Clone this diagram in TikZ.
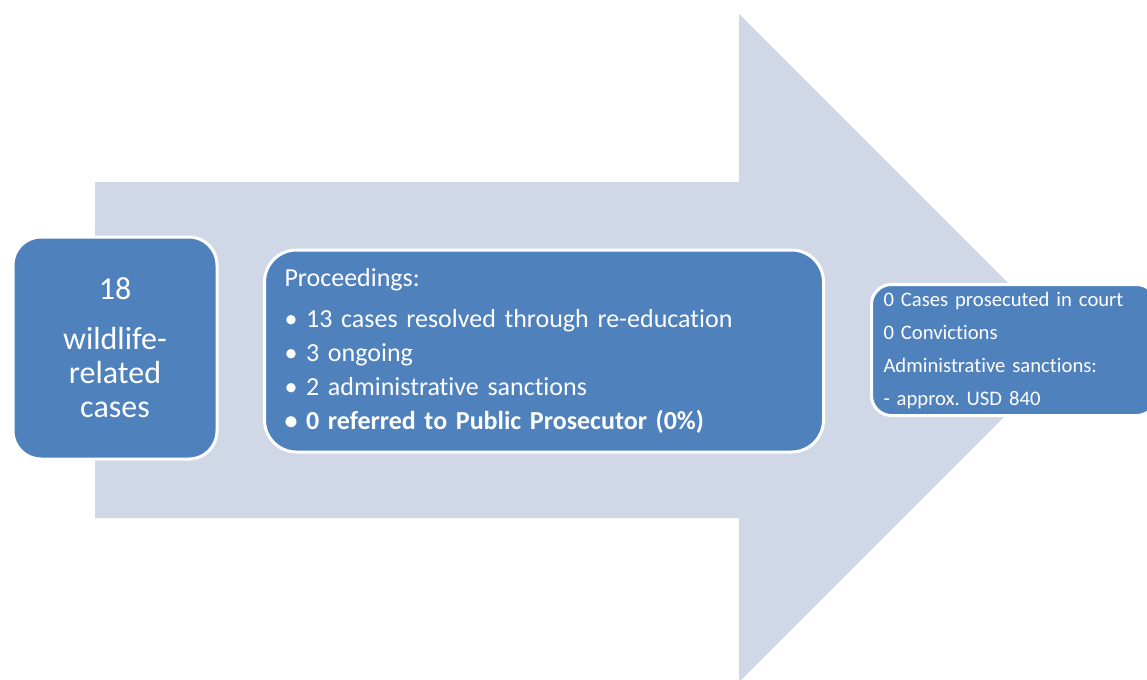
\documentclass[tikz,border=0pt]{standalone}
\usepackage{fontspec}
\setmainfont{Carlito}[Ligatures=NoCommon]
\usetikzlibrary{positioning}
\definecolor{arrowfill}{HTML}{D0D8E8}
\definecolor{boxblue}{HTML}{4F81BD}
\frenchspacing

\begin{document}
\begin{tikzpicture}[
        x=0.75pt,
        y=-0.75pt,
        casebox/.style={
            draw=white,
            line width=2.25pt,
            fill=boxblue,
            text=white,
            inner ysep=0pt
        }
    ]
    \useasboundingbox (0,0) rectangle (1147,679);
    \clip (0,0) rectangle (1147,679);
    \fill[arrowfill] (95,182) -- (739,182) -- (739,14)
        -- (1073,348) -- (739,682) -- (739,518) -- (95,518) -- cycle;
    \node[
        casebox,
        rounded corners=21pt,
        minimum width=153pt,
        minimum height=166.5pt,
        align=center,
        font=\fontsize{24}{25.5}\selectfont
    ] (total) at (115,348) {18\\[12pt]wildlife-\\related\\cases};
    \node[
        casebox,
        rounded corners=24pt,
        minimum height=151.5pt,
        text width=389.25pt,
        inner xsep=15pt,
        align=left,
        font=\fontsize{19.5}{25.5}\selectfont
    ] (proceedings) at (544,351) {Proceedings:\\[5pt]
        • 13 cases resolved through re-education\\
        • 3 ongoing\\
        • 2 administrative sanctions\\
        \textbf{• 0 referred to Public Prosecutor (0\%)}};
    \node[
        casebox,
        rounded corners=15pt,
        minimum height=98.25pt,
        text width=195.75pt,
        inner xsep=9pt,
        align=left,
        font=\fontsize{15.5}{24.75}\selectfont
    ] (outcome) at (1014,350) {0 Cases prosecuted in court\\
        0 Convictions\\
        Administrative sanctions:\\
        - approx. USD 840};
\end{tikzpicture}
\end{document}
